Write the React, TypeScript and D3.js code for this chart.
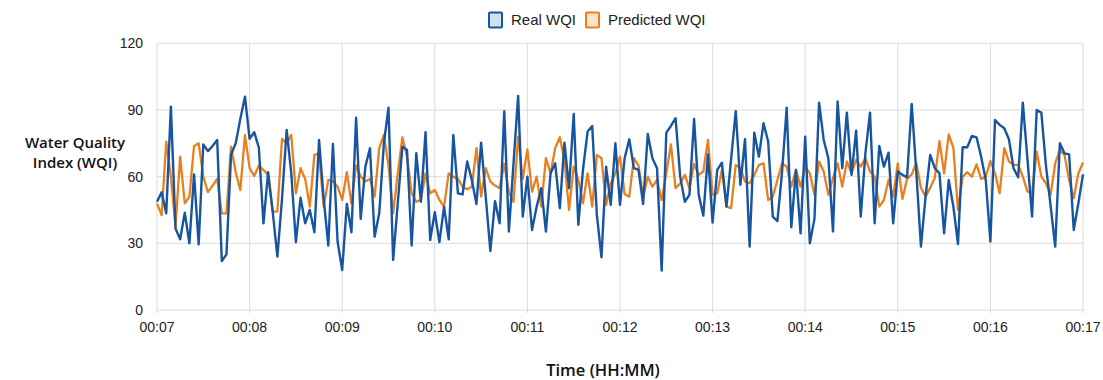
import React from "react";
import * as d3 from "d3";

// 3-second samples from 00:07:00 to 00:17:00
const realWQI: number[] = [
  48.7, 53, 43.5, 91.5, 36.7, 31.8, 43.8, 30, 61, 29.5,
  74.5, 71.5, 73.8, 76.5, 22, 25, 70, 75, 86, 96,
  77, 80, 73, 39, 62, 44, 24, 50, 81, 61.5,
  30.5, 50.5, 39, 45, 35, 76.5, 50, 29, 74.7, 30.8,
  18, 47.7, 35, 86.5, 41, 64.5, 72.8, 33, 43.5, 75,
  91, 22.5, 48, 73.5, 72, 29, 70.5, 48.7, 80, 31.5,
  44, 30.5, 46.5, 31.8, 78.8, 52.5, 52, 66.8, 58.5, 47.7,
  75.3, 51, 26.5, 49, 39, 89.5, 35.3, 66, 96.3, 42,
  60, 36, 46.5, 54.8, 35.3, 61.5, 66, 45.8, 75.3, 54.8,
  88.2, 38.3, 63, 80.3, 82.8, 42.8, 23.7, 64.5, 47.3, 75,
  47.3, 68.3, 76.8, 63.8, 63, 47.7, 79.2, 68.3, 63.8, 17.7,
  79.8, 82.8, 86.3, 60, 48.7, 51.8, 86, 51.8, 42.5, 70,
  39.3, 63, 66.3, 46.5, 68, 89.5, 56.3, 76.8, 28.5, 79.8,
  69, 84, 75.8, 42, 40, 62, 91, 37.2, 63, 34.5,
  78, 30, 41, 93.3, 76.5, 68.3, 35.3, 93.8, 63.8, 88.8,
  60.8, 80.7, 42, 70.5, 88.8, 39, 73.8, 64.5, 70.8, 39,
  62.3, 60.8, 59.7, 92.7, 62, 28.5, 51, 69.8, 63.8, 61.5,
  34.5, 58.5, 46.5, 29.7, 73.2, 73.2, 78.3, 77.7, 69, 58.5,
  30.8, 85.5, 83.3, 81.8, 76.8, 63.8, 59.7, 93.3, 68, 42,
  90, 88.8, 65, 47, 28.5, 75, 70.5, 70, 36, 48,
  61,
];

const predictedWQI: number[] = [
  48, 42.7, 75.7, 60, 37.5, 69, 48, 51, 73.8, 75,
  60, 53, 56, 59, 43.5, 43.5, 73.5, 62, 54, 78.8,
  63.8, 60.3, 65, 63, 60.8, 44.3, 44.3, 77, 75, 78.8,
  52.5, 63.8, 59, 46.5, 69.8, 70.5, 46.5, 58.5, 58, 55.5,
  49.5, 62, 48, 65, 60, 57.8, 59, 51, 72.8, 78.8,
  65, 43.5, 61.5, 77.7, 69, 52.5, 48.7, 49.5, 61.5, 52.5,
  54, 49.5, 46.5, 61.5, 60, 59, 55.5, 54.3, 55.5, 72.8,
  51, 63.8, 57.8, 56, 54.8, 65.7, 53, 48.7, 78, 59,
  72.3, 53.3, 60, 46.5, 68.3, 61.5, 72.8, 77.7, 67.5, 45,
  64.5, 58.5, 48, 61.5, 46.5, 69.8, 68.3, 47.3, 57, 61.5,
  69, 52.2, 51, 68.3, 65, 51, 60, 55.5, 58.5, 49.5,
  61.5, 74.5, 54.8, 57, 60.8, 54.8, 65.7, 60.8, 62.3, 76.5,
  51.8, 52.5, 63, 46.5, 45.8, 65.3, 63.8, 57.8, 57, 60.8,
  65.3, 66, 49.5, 51, 58.5, 66, 64.5, 55.5, 63, 55.5,
  64.5, 61.5, 51.8, 66.8, 62.3, 51.8, 59.3, 66, 55.5, 66.8,
  61.5, 67.5, 64.5, 68.3, 62.3, 60, 46.5, 49.5, 58.5, 51,
  66, 50, 59, 61, 66, 55, 51, 55, 59.5, 76,
  61.5, 79, 73, 45, 60, 62, 60, 65.5, 59, 60,
  67, 61.5, 52.5, 72.8, 66.8, 65.3, 65.3, 60, 53.3, 52.5,
  71.3, 60, 57, 51.8, 66, 72, 69.8, 58.5, 50.3, 61.5,
  66.3,
];

const xTickLabels: string[] = ["00:07", "00:08", "00:09", "00:10", "00:11", "00:12", "00:13", "00:14", "00:15", "00:16", "00:17"];
const yTicks: number[] = [0, 30, 60, 90, 120];
const seriesNames: string[] = ["Real WQI", "Predicted WQI"];
const stepSeconds = 3;

const W = 1103;
const H = 380;
const left = 157;
const right = 1083;
const top = 43.3;
const bottom = 310;

const BLUE = "#1855a0";
const ORANGE = "#e8801f";
const FONT = "'Liberation Sans', Arial, Helvetica, sans-serif";

export default function App() {
  const totalSec = (xTickLabels.length - 1) * 60;
  const x = d3.scaleLinear().domain([0, totalSec]).range([left, right]);
  const y = d3.scaleLinear().domain([0, 120]).range([bottom, top]);

  const line = d3
    .line<number>()
    .x((_, i) => x(i * stepSeconds))
    .y((d) => y(d));

  const xTicks = xTickLabels.map((_, i) => i * 60);

  return (
    <svg
      width={W}
      height={H}
      style={{ position: "absolute", left: 0, top: 0, background: "#fff" }}
      fontFamily={FONT}
    >
      {/* grid */}
      {yTicks.map((t) => (
        <line key={"gy" + t} x1={left} x2={right} y1={y(t)} y2={y(t)} stroke="#dcdcdc" strokeWidth={1} />
      ))}
      {xTicks.map((t) => (
        <line key={"gx" + t} x1={x(t)} x2={x(t)} y1={top} y2={bottom + 3} stroke="#dcdcdc" strokeWidth={1} />
      ))}

      {/* y tick labels */}
      {yTicks.map((t) => (
        <text key={"ty" + t} x={143} y={y(t)} dy="0.35em" textAnchor="end" fontSize={14} fill="#222">
          {t}
        </text>
      ))}
      {/* x tick labels */}
      {xTicks.map((t, i) => (
        <text key={"tx" + t} x={x(t)} y={332} textAnchor="middle" fontSize={14} fill="#222">
          {xTickLabels[i]}
        </text>
      ))}

      {/* series */}
      <path d={line(predictedWQI) || ""} fill="none" stroke={ORANGE} strokeWidth={2.3} strokeLinejoin="round" />
      <path d={line(realWQI) || ""} fill="none" stroke={BLUE} strokeWidth={2.4} strokeLinejoin="round" />

      {/* axis titles */}
      <text x={75} y={148} textAnchor="middle" fontSize={15} fontWeight={600} fill="#111" fontFamily="'Open Sans', sans-serif">
        Water Quality
      </text>
      <text x={75} y={168} textAnchor="middle" fontSize={15} fontWeight={600} fill="#111" fontFamily="'Open Sans', sans-serif">
        Index (WQI)
      </text>
      <text x={603} y={376} textAnchor="middle" fontSize={16.5} fontWeight={600} fill="#111" fontFamily="'Open Sans', sans-serif">
        Time (HH:MM)
      </text>

      {/* legend */}
      <g>
        <rect x={489} y={12.5} width={13} height={15} fill="#cfe0f3" stroke={BLUE} strokeWidth={2} rx={1} />
        <text x={511} y={25} fontSize={15} fill="#222">{seriesNames[0]}</text>
        <rect x={586} y={12.5} width={13} height={15} fill="#fde2cc" stroke={ORANGE} strokeWidth={2} rx={1} />
        <text x={608} y={25} fontSize={15} fill="#222">{seriesNames[1]}</text>
      </g>
    </svg>
  );
}
